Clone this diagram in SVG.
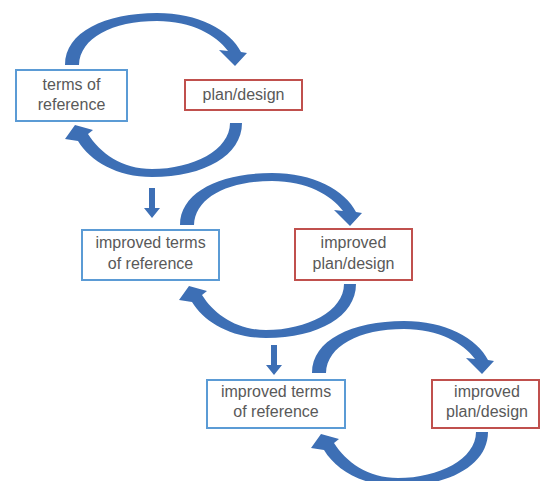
<svg xmlns="http://www.w3.org/2000/svg" width="541" height="481" viewBox="0 0 541 481">
<style>
.tor{fill:#fff;stroke:#5b9bd5;stroke-width:2}
.pd{fill:#fff;stroke:#c0504d;stroke-width:2}
.t{font-family:"Liberation Sans",Arial,sans-serif;font-size:16px;fill:#595959;text-anchor:middle}
.arr{fill:#3d6fb5}
</style>
<defs>
<path id="arcTop" d="M65,65 C65,32 105,13 157,13 C198,13 230,30 241,52 L247,53 L235,66 L219,50 L228,51 C216,35 192,21 157,21 C112,21 80,38 79,65 Z"/>
<path id="arcBot" d="M242,123 C242,155 205,177 152,177 C117,177 90,161 78,141 L65,139 L75,125 L93,130 L88,134 C100,153 122,169 152,169 C193,169 230,150 230,123 Z"/>
<path id="down" d="M149,188 L155,188 L155,208 L160,208 L152,218 L144,208 L149,208 Z"/>
</defs>
<rect width="541" height="481" fill="#fff"/>
<g id="connectors" class="arr">
<use href="#arcTop"/>
<use href="#arcBot"/>
<use href="#down"/>
<use href="#arcTop" transform="translate(115,160)"/>
<use href="#arcBot" transform="translate(114,161)"/>
<use href="#down" transform="translate(122,157)"/>
<use href="#arcTop" transform="translate(247,308)"/>
<use href="#arcBot" transform="translate(246,309)"/>
</g>
<g id="tor1"><rect class="tor" x="16" y="70" width="111" height="51"/><text class="t" x="71.5" y="90">terms of</text><text class="t" x="71.5" y="110">reference</text></g>
<g id="pd1"><rect class="pd" x="185" y="80" width="117" height="30"/><text class="t" x="243.5" y="100">plan/design</text></g>
<g id="tor2"><rect class="tor" x="82" y="230" width="137" height="50"/><text class="t" x="150.5" y="248">improved terms</text><text class="t" x="150.5" y="269">of reference</text></g>
<g id="pd2"><rect class="pd" x="295" y="229" width="117" height="51"/><text class="t" x="353.5" y="248">improved</text><text class="t" x="353.5" y="269">plan/design</text></g>
<g id="tor3"><rect class="tor" x="207" y="380" width="138" height="48"/><text class="t" x="276" y="397">improved terms</text><text class="t" x="276" y="417">of reference</text></g>
<g id="pd3"><rect class="pd" x="432" y="380" width="107" height="48"/><text class="t" x="487" y="397">improved</text><text class="t" x="487" y="417">plan/design</text></g>
</svg>
